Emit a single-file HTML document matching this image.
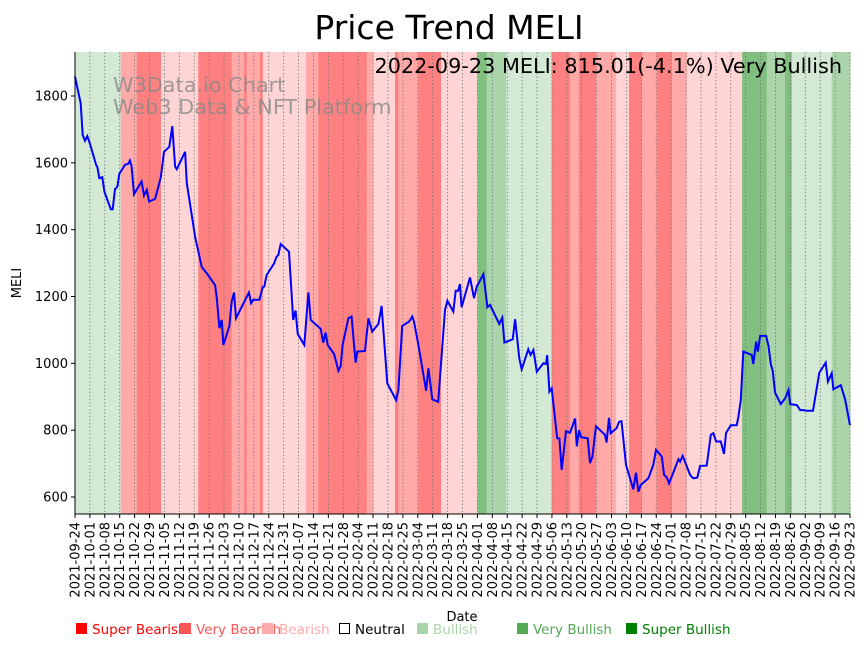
<!DOCTYPE html>
<html><head><meta charset="utf-8"><style>
body{margin:0;background:#fff;}
svg{display:block;font-family:"DejaVu Sans","Liberation Sans",sans-serif;}
</style></head><body>
<svg id="chart" width="866" height="646" viewBox="0 0 866 646" xmlns="http://www.w3.org/2000/svg">
<text x="449" y="39" font-size="33" text-anchor="middle">Price Trend MELI</text>
<g id="bands"></g>
<g id="grid"></g>
<text x="113" y="92" font-size="20.8" fill="#888" fill-opacity="0.8">W3Data.io Chart</text>
<text x="113" y="114" font-size="20.8" fill="#888" fill-opacity="0.8">Web3 Data &amp; NFT Platform</text>
<text x="842" y="73" font-size="20.8" text-anchor="end">2022-09-23 MELI: 815.01(-4.1%) Very Bullish</text>
<polyline id="price-line" fill="none" stroke="#0000ff" stroke-width="2"/>
<g id="axes"></g>
<text transform="translate(21,283) rotate(-90)" font-size="13" text-anchor="middle">MELI</text>
<text x="462" y="621" font-size="13" text-anchor="middle">Date</text>
<g id="legend" font-size="13.5">
<rect x="76" y="623" width="11" height="11" fill="#ff0000"/><text x="92" y="634" fill="#ff0000">Super Bearish</text>
<rect x="180" y="623" width="11" height="11" fill="#ff5555"/><text x="196" y="634" fill="#ff5555">Very Bearish</text>
<rect x="262" y="623" width="11" height="11" fill="#ffaaaa"/><text x="279" y="634" fill="#ffaaaa">Bearish</text>
<rect x="339.5" y="623.5" width="10" height="10" fill="none" stroke="#000"/><text x="355" y="634" fill="#000">Neutral</text>
<rect x="417" y="623" width="11" height="11" fill="#aad5aa"/><text x="433" y="634" fill="#aad5aa">Bullish</text>
<rect x="517" y="623" width="11" height="11" fill="#55aa55"/><text x="533" y="634" fill="#55aa55">Very Bullish</text>
<rect x="626" y="623" width="11" height="11" fill="#008000"/><text x="642" y="634" fill="#008000">Super Bullish</text>
</g>
</svg>
<script>
const bandStarts=[0,21.5,29,40.4,57.9,73.6,79.4,80.6,86.9,88.2,108.5,114.3,137,140.1,150.3,151.9,161.2,171.9,189,193.4,202.4,223.9,232.5,236.7,244.7,254,260.2,266.2,273.2,280.3,287.3,313.3,324.9,333.5,336.6,355.4];
const bandLevels=[1,-2,-3,-1,-3,-2,-3,-2,-3,-1,-2,-3,-2,-1,-3,-2,-3,-1,3,2,1,-3,-2,-3,-2,-1,-3,-2,-3,-2,-1,3,2,3,1,2];
const priceDays=[0,2.7,3.6,4.7,5.8,7,9.9,10.5,11.4,12.8,13.8,16.8,17.7,18.8,19.9,20.8,23.5,25,25.8,26.6,27.7,31.3,32.4,33.7,34.8,37.6,40.3,41.8,44.3,45.7,47,47.8,51.7,52.5,56.4,59.5,61.9,65.8,66.6,67.8,68.9,69.7,72.5,73.6,74.7,75.6,81.7,82.7,83.7,86.6,88.2,88.9,90,93.5,94.7,95.5,96.6,100.5,102.5,103.6,104.6,107.7,109.6,110.7,115.4,116.6,117.7,118.7,121.7,123.7,124.8,125.7,128.4,129.9,131.8,132.6,136.2,137.8,139.6,142.5,144,146.7,150.8,151.9,153.7,156.9,158.4,159.2,161.3,164.9,166,167.8,170.6,173.8,174.9,177.7,178.8,180,180.8,181.6,185.5,187.4,188.7,191.8,193.7,194.9,199.3,200.7,201.7,205.6,206.7,208.7,209.8,212.9,214,215.3,216.9,220,221.2,221.8,222.8,223.9,226.5,227.5,228.6,230.6,232.5,234.9,235.7,236.7,237.7,240.8,241.9,243,244.7,248.9,249.7,250.8,251.6,254.4,255.5,256.7,258.8,262.2,263.5,264.6,265.7,269.3,271.6,272.9,275.6,276.7,278,279,281,283.4,284.2,285.4,288.9,290.4,292.3,293.6,296.7,298.6,299.8,301.1,303.3,304.8,305.8,308,310.8,311.6,312.7,313.9,317.9,318.6,319.9,320.7,321.8,324.6,325.7,326.8,327.7,328.8,331.5,333.5,335.1,335.9,339,340.6,342.2,343.7,346.6,349.6,352.6,353.6,355.4,356.2,359.7,361.7,364];
const priceValues=[1858,1778,1683,1666,1680,1658,1594,1587,1554,1557,1514,1461,1461,1521,1529,1567,1594,1597,1607,1589,1506,1544,1502,1519,1484,1492,1557,1633,1648,1710,1589,1581,1633,1539,1379,1289,1269,1234,1195,1105,1130,1055,1112,1185,1212,1135,1212,1180,1190,1190,1228,1230,1264,1299,1319,1324,1357,1334,1130,1158,1088,1055,1212,1130,1103,1062,1092,1055,1028,978,992,1055,1135,1140,1002,1035,1037,1135,1095,1118,1172,940,890,920,1112,1125,1140,1125,1055,918,985,892,885,1160,1187,1155,1217,1217,1237,1168,1257,1195,1230,1267,1168,1175,1118,1137,1062,1072,1132,1015,982,1042,1025,1040,975,1000,998,1025,915,925,776,775,681,797,792,835,751,800,779,776,701,721,812,786,763,837,791,806,825,827,696,623,673,616,636,656,696,741,721,666,658,641,673,713,706,723,666,656,658,693,694,786,791,766,766,729,792,815,815,840,890,1035,1025,998,1065,1035,1082,1082,1052,998,978,912,878,895,920,878,875,860,860,858,858,972,1002,945,970,922,935,892,815];
const yTicks=[600,800,1000,1200,1400,1600,1800];
const xTickLabels=["2021-09-24","2021-10-01","2021-10-08","2021-10-15","2021-10-22","2021-10-29","2021-11-05","2021-11-12","2021-11-19","2021-11-26","2021-12-03","2021-12-10","2021-12-17","2021-12-24","2021-12-31","2022-01-07","2022-01-14","2022-01-21","2022-01-28","2022-02-04","2022-02-11","2022-02-18","2022-02-25","2022-03-04","2022-03-11","2022-03-18","2022-03-25","2022-04-01","2022-04-08","2022-04-15","2022-04-22","2022-04-29","2022-05-06","2022-05-13","2022-05-20","2022-05-27","2022-06-03","2022-06-10","2022-06-17","2022-06-24","2022-07-01","2022-07-08","2022-07-15","2022-07-22","2022-07-29","2022-08-05","2022-08-12","2022-08-19","2022-08-26","2022-09-02","2022-09-09","2022-09-16","2022-09-23"];

const X0=75,X1=850,TOTAL=364,YT=52,YB=514;
const xs=d=>X0+(X1-X0)*d/TOTAL;
const ys=v=>497-(v-600)*(401/1200);
const NS="http://www.w3.org/2000/svg";
const colors={"1":"#d4e9d4","2":"#aad4aa","3":"#80bf80","-1":"#ffd4d4","-2":"#ffa9a9","-3":"#ff8080"};
function mk(tag,attrs,parent){const e=document.createElementNS(NS,tag);for(const k in attrs)e.setAttribute(k,attrs[k]);parent.appendChild(e);return e;}
const bands=document.getElementById('bands');
for(let i=0;i<bandStarts.length;i++){
  const s=bandStarts[i],e=i+1<bandStarts.length?bandStarts[i+1]:TOTAL;
  const r=mk('rect',{x:xs(s),y:YT,width:xs(e)-xs(s)+0.5,height:YB-YT,fill:colors[bandLevels[i]]},bands);
  
  
}
const grid=document.getElementById('grid'),axes=document.getElementById('axes');
xTickLabels.forEach((lab,i)=>{
  const x=xs(i*7);
  const g=mk('line',{x1:x,x2:x,y1:YT,y2:YB,stroke:'#777','stroke-width':0.8,'stroke-dasharray':'1.5,2'},grid);
  
  
  const t=mk('line',{x1:x,x2:x,y1:YB,y2:YB+4,stroke:'#000','stroke-width':1},axes);
  
  
  const tx=mk('text',{transform:`translate(${x+4.5},${YB+8}) rotate(-90)`,'font-size':13,'text-anchor':'end'},axes);
  tx.textContent=lab;
  
  
});
yTicks.forEach(v=>{
  const y=ys(v);
  const t=mk('line',{x1:X0-4,x2:X0,y1:y,y2:y,stroke:'#000','stroke-width':1},axes);
  
  
  const tx=mk('text',{x:X0-7,y:y+4.5,'font-size':13,'text-anchor':'end'},axes);
  tx.textContent=v;
  
  
});
const sl=mk('line',{x1:X0,x2:X0,y1:YT,y2:YB,stroke:'#000','stroke-width':1},axes);


const sb=mk('line',{x1:X0,x2:X1,y1:YB,y2:YB,stroke:'#000','stroke-width':1},axes);


document.getElementById('price-line').setAttribute('points',priceDays.map((d,i)=>xs(d).toFixed(1)+','+ys(priceValues[i]).toFixed(1)).join(' '));
</script>
</body></html>
